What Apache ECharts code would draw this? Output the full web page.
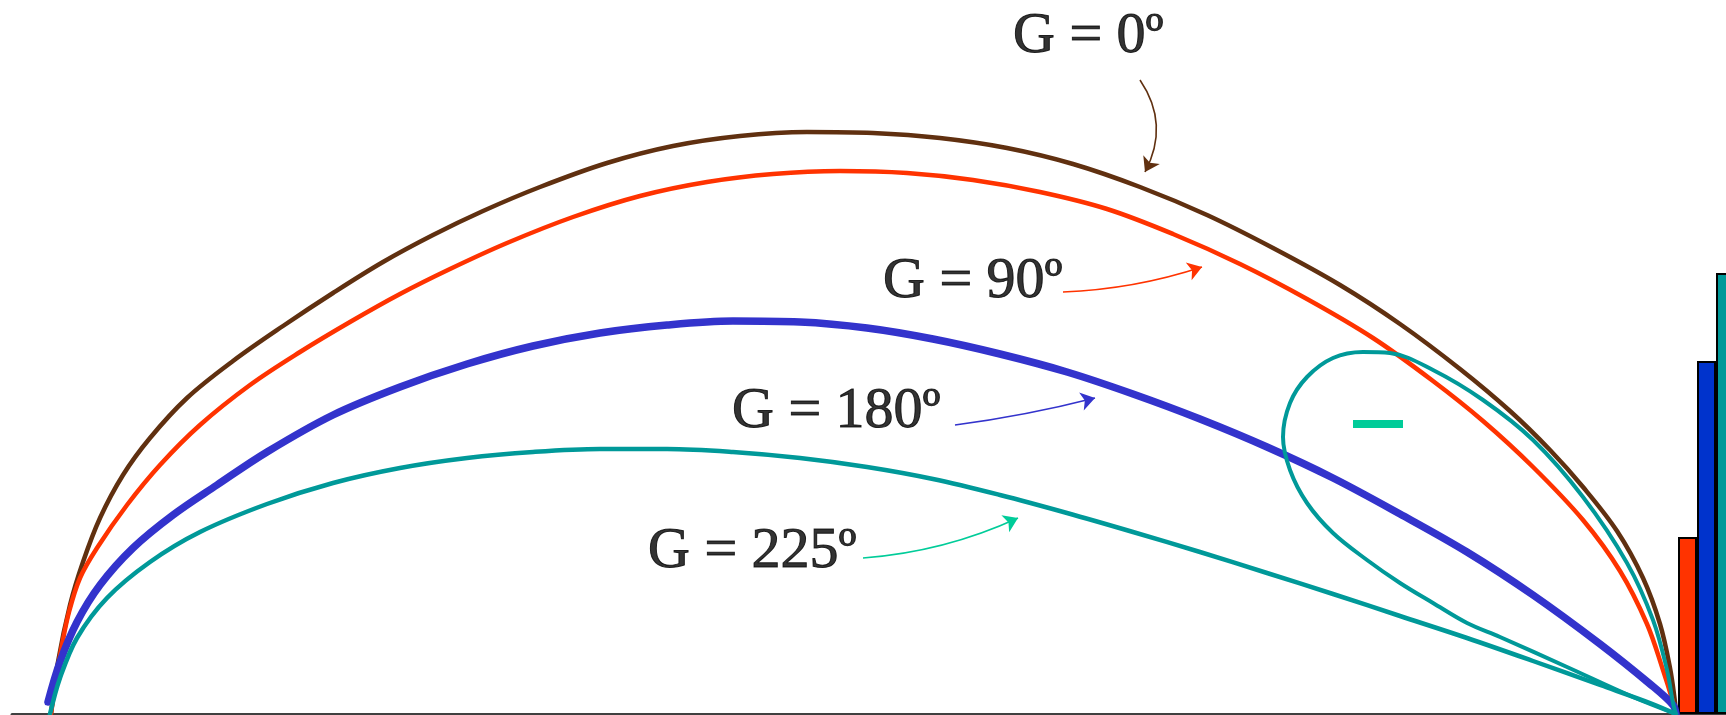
<!DOCTYPE html>
<html>
<head>
<meta charset="utf-8">
<title>G trajectories</title>
<style>
  html, body { margin: 0; padding: 0; background: #ffffff; }
  #chart { width: 1726px; height: 715px; }
</style>
<script src="https://cdn.jsdelivr.net/npm/echarts@6.0.0/dist/echarts.min.js"></script>
</head>
<body>
<div id="chart"></div>
<script>
// Each path: [horizontal distance from the launch point, height above the ground line]
const pathG0 = [
  [0,0],[7,52],[19,109],[32,152],[49,196],[72,239],[99,276],[136,316],[182,353],
  [232,388],[282,421],[332,452],[382,479],[432,503],[489,527],[556,551],[622,568],
  [689,578],[756,582],[822,581],[889,576],[956,566],[1022,550],[1089,527],[1156,499],
  [1222,466],[1289,429],[1349,390],[1409,345],[1459,303],[1499,264],[1532,227],
  [1566,183],[1592,136],[1609,90],[1619,46],[1624,12],[1625,0]
];
const pathG90 = [
  [0,0],[5,34],[11,69],[18,102],[29,136],[46,166],[76,209],[109,249],[149,289],
  [199,329],[249,362],[299,392],[349,420],[399,445],[456,471],[522,497],[589,518],
  [656,532],[722,540],[789,543],[856,541],[922,534],[989,522],[1056,505],[1122,480],
  [1189,450],[1256,415],[1322,376],[1382,333],[1432,293],[1482,247],[1532,194],
  [1569,143],[1596,90],[1612,44],[1622,12],[1625,0]
];
const pathG180 = [
  [-3,12],[9,52],[26,92],[49,129],[82,166],[122,199],[166,229],[216,262],[282,299],
  [349,327],[416,350],[482,368],[549,381],[616,389],[682,393],[749,392],[816,386],
  [882,375],[949,360],[1016,342],[1082,320],[1149,295],[1216,267],[1282,236],
  [1349,200],[1416,162],[1482,119],[1549,70],[1599,30],[1622,9],[1625,0]
];
const pathG225 = [
  [-1,0],[9,36],[26,76],[56,116],[99,152],[149,182],[216,210],[282,231],[349,246],
  [416,256],[482,262],[549,265],[616,265],[682,262],[749,256],[816,247],[882,235],
  [949,219],[1016,201],[1082,182],[1149,162],[1216,141],[1282,120],[1349,98],
  [1416,76],[1482,53],[1549,29],[1599,11],[1625,0]
];
// G = 225º continues past the landing point and closes in a loop
const pathG225Loop = [
  [1625,0],[1582,17],[1516,47],[1449,77],[1416,91],[1382,111],[1349,131],[1316,154],
  [1282,181],[1256,211],[1239,244],[1232,277],[1239,311],[1256,337],[1282,356],
  [1312,362],[1339,361],[1382,344],[1432,314],[1482,274],[1532,217],[1576,151],
  [1602,94],[1616,44],[1622,11],[1625,0]
];
const dashSegment = [[1302,290],[1352,290]];

const labelTexts = ['G = 0º', 'G = 90º', 'G = 180º', 'G = 225º'];
const labelAnchors = [[962,677],[832,432],[681,302],[597,162]];
const arrowStarts = [[1089,634],[1012,422],[904,289],[812,156]];
const arrowEnds = [[1094,542],[1151,447],[1044,316],[967,196]];
const arrowBends = [0.3, -0.07, -0.03, -0.09];

const barPositions = [1636.5, 1655.5, 1674.5];
const barHeights = [177, 353, 441];

const BROWN = '#603010';
const RED = '#ff3300';
const BLUE = '#3333cc';
const TEAL = '#009999';
const GREEN = '#00cc99';
const arrowColors = [BROWN, RED, BLUE, GREEN];
const barColors = ['#ff3300', '#0033cc', '#009999'];

const chart = echarts.init(document.getElementById('chart'), null, { renderer: 'canvas' });

function pathSeries(name, data, color, width) {
  return {
    name: name,
    type: 'line',
    data: data,
    smooth: 0.35,
    smoothMonotone: 'none',
    showSymbol: false,
    symbol: 'none',
    silent: true,
    clip: false,
    lineStyle: { color: color, width: width, cap: 'round', join: 'round' },
    z: 3
  };
}

const option = {
  animation: false,
  backgroundColor: '#ffffff',
  grid: { left: 12, right: 0, top: 0, bottom: 1, containLabel: false },
  xAxis: {
    type: 'value',
    min: -39,
    max: 1675,
    axisLine: { show: true, onZero: true, lineStyle: { color: '#404040', width: 3 } },
    axisTick: { show: false },
    axisLabel: { show: false },
    splitLine: { show: false }
  },
  yAxis: {
    type: 'value',
    min: 0,
    max: 714,
    axisLine: { show: false },
    axisTick: { show: false },
    axisLabel: { show: false },
    splitLine: { show: false }
  },
  series: [
    {
      name: 'bars',
      type: 'bar',
      barWidth: 19,
      silent: true,
      data: barPositions.map((x, i) => ({
        value: [x, barHeights[i]],
        itemStyle: { color: barColors[i], borderColor: '#000000', borderWidth: 2 }
      })),
      z: 2
    },
    pathSeries('G = 0º', pathG0, BROWN, 4.5),
    pathSeries('G = 90º', pathG90, RED, 4.5),
    pathSeries('G = 180º', pathG180, BLUE, 7.5),
    pathSeries('G = 225º', pathG225, TEAL, 4.5),
    pathSeries('G = 225º loop', pathG225Loop, TEAL, 4),
    {
      name: 'dash',
      type: 'line',
      data: dashSegment,
      showSymbol: false,
      symbol: 'none',
      silent: true,
      lineStyle: { color: GREEN, width: 8, cap: 'butt' },
      z: 4
    },
    {
      name: 'pointers',
      type: 'lines',
      coordinateSystem: 'cartesian2d',
      silent: true,
      symbol: ['none', 'arrow'],
      symbolSize: 14,
      data: arrowStarts.map((s, i) => ({
        coords: [s, arrowEnds[i]],
        lineStyle: { color: arrowColors[i], width: 1.6, curveness: arrowBends[i], opacity: 1 }
      })),
      z: 5
    },
    {
      name: 'labels',
      type: 'scatter',
      symbolSize: 0,
      silent: true,
      data: labelAnchors.map((p, i) => ({
        value: p,
        label: {
          show: true,
          position: 'right',
          distance: 0,
          formatter: labelTexts[i],
          fontFamily: 'Liberation Serif',
          fontSize: 58,
          color: '#000000',
          textBorderColor: '#000000',
          textBorderWidth: 1,
          align: 'left',
          verticalAlign: 'middle'
        }
      })),
      z: 6
    }
  ]
};

chart.setOption(option);
</script>
</body>
</html>
